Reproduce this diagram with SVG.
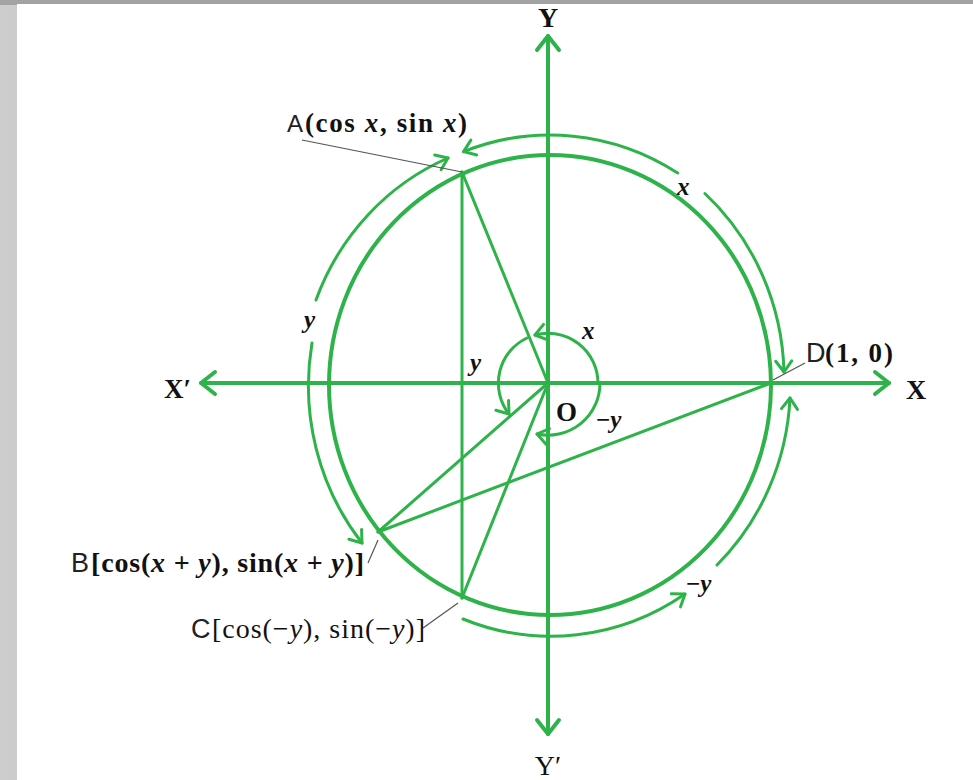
<svg xmlns="http://www.w3.org/2000/svg" width="973" height="780" viewBox="0 0 973 780">
  <defs>
    <linearGradient id="frame" x1="0" y1="0" x2="1" y2="0">
      <stop offset="0" stop-color="#cdcdcd"/>
      <stop offset="1" stop-color="#939393"/>
    </linearGradient>
    <marker id="axArrow" markerUnits="userSpaceOnUse" orient="auto-start-reverse" overflow="visible" markerWidth="30" markerHeight="30" refX="0" refY="0">
      <path d="M-14,-11 L0,0 L-14,11" fill="none" stroke="#2eb34a" stroke-width="4" stroke-linecap="round" stroke-linejoin="round"/>
    </marker>
    <marker id="arcArrow" markerUnits="userSpaceOnUse" orient="auto-start-reverse" overflow="visible" markerWidth="24" markerHeight="24" refX="0" refY="0">
      <path d="M-11,-8 L0,0 L-11,8" fill="none" stroke="#2eb34a" stroke-width="3" stroke-linecap="round" stroke-linejoin="round"/>
    </marker>
  </defs>
  <style>
    .g { fill: none; stroke: #2eb34a; stroke-linecap: round; }
    .axis { stroke-width: 4; }
    .circ { stroke-width: 4; }
    .ln { stroke-width: 3; }
    .arc { stroke-width: 3; }
    .lead { stroke: #555; stroke-width: 1.2; fill: none; }
    .serif { font-family: "Liberation Serif", "Times New Roman", serif; fill: #111; }
    .sans { font-family: "Liberation Sans", Arial, sans-serif; fill: #222; }
    .it { font-style: italic; }
    .b { font-weight: bold; }
  </style>

  <rect x="0" y="0" width="973" height="780" fill="url(#frame)"/>
  <rect x="0" y="0" width="973" height="5" fill="#a3a3a3"/>
  <rect x="17" y="4" width="956" height="776" fill="#ffffff"/>

  <g id="connectors">
    <line id="x-axis" class="g axis" x1="201" y1="383" x2="889" y2="383" marker-start="url(#axArrow)" marker-end="url(#axArrow)"/>
    <line id="y-axis" class="g axis" x1="548" y1="36" x2="548" y2="734" marker-start="url(#axArrow)" marker-end="url(#axArrow)"/>
    <ellipse id="unit-circle" class="g circ" cx="550" cy="385" rx="221" ry="230"/>
    <line class="g ln" x1="548" y1="383" x2="462" y2="172"/>
    <line class="g ln" x1="548" y1="383" x2="378" y2="532"/>
    <line class="g ln" x1="548" y1="383" x2="462" y2="598"/>
    <line class="g ln" x1="378" y1="532" x2="771" y2="383"/>
    <line class="g ln" x1="462" y1="172" x2="462" y2="598"/>
    <path class="g arc" d="M463.6,151.6 A241,250 0 0,1 677.7,173" marker-start="url(#arcArrow)"/>
    <path class="g arc" d="M704.9,193.5 A241,250 0 0,1 784,372" marker-end="url(#arcArrow)"/>
    <path class="g arc" d="M448,158 A241,250 0 0,0 316,300" marker-start="url(#arcArrow)"/>
    <path class="g arc" d="M312,343 A241,250 0 0,0 362,543" marker-end="url(#arcArrow)"/>
    <path class="g arc" d="M463,619 A241,250 0 0,0 685,594" marker-end="url(#arcArrow)"/>
    <path class="g arc" d="M717,565 A241,250 0 0,0 790,398" marker-end="url(#arcArrow)"/>
    <path class="g arc" d="M598,383 A50,50 0 0,0 535,335" marker-end="url(#arcArrow)"/>
    <path class="g arc" d="M527,338 A50,50 0 0,0 509,414" marker-end="url(#arcArrow)"/>
    <path class="g arc" d="M600,383 A52,52 0 0,1 537,434" marker-end="url(#arcArrow)"/>
    <line class="lead" x1="302" y1="140" x2="462" y2="172"/>
    <line class="lead" x1="773" y1="380" x2="805" y2="363"/>
    <line class="lead" x1="368" y1="563" x2="378" y2="540"/>
    <line class="lead" x1="423" y1="628" x2="458" y2="603"/>
  </g>

  <g id="axis-labels">
    <text class="serif b" x="548" y="27" font-size="28" text-anchor="middle">Y</text>
    <text class="serif" x="548" y="775" font-size="28" text-anchor="middle">Y′</text>
    <text class="serif b" x="164" y="398" font-size="27">X′</text>
    <text class="serif b" x="906" y="399" font-size="28">X</text>
  </g>

  <g id="node-A">
    <text class="sans" x="287" y="132" font-size="24">A</text>
    <text class="serif b" x="305" y="132" font-size="27" textLength="162" lengthAdjust="spacing">(cos <tspan class="it">x</tspan>, sin <tspan class="it">x</tspan>)</text>
  </g>
  <g id="node-D">
    <text class="sans" x="806" y="362" font-size="27">D</text>
    <text class="serif b" x="825" y="362" font-size="27" textLength="68" lengthAdjust="spacing">(1, 0)</text>
  </g>
  <g id="node-B">
    <text class="sans" x="71" y="572" font-size="27">B</text>
    <text class="serif b" x="91" y="572" font-size="28" textLength="273" lengthAdjust="spacing">[cos(<tspan class="it">x</tspan> + <tspan class="it">y</tspan>), sin(<tspan class="it">x</tspan> + <tspan class="it">y</tspan>)]</text>
  </g>
  <g id="node-C">
    <text class="sans" x="191" y="638" font-size="27">C</text>
    <text class="serif" x="212" y="638" font-size="28" textLength="213" lengthAdjust="spacing">[cos(−<tspan class="it">y</tspan>), sin(−<tspan class="it">y</tspan>)]</text>
  </g>
  <g id="node-O">
    <text class="serif b" x="556" y="421" font-size="27">O</text>
  </g>

  <g id="angle-labels">
    <text class="serif it b" x="677" y="195" font-size="25">x</text>
    <text class="serif it b" x="304" y="328" font-size="25">y</text>
    <text class="serif it b" x="582" y="339" font-size="25">x</text>
    <text class="serif it b" x="470" y="371" font-size="25">y</text>
    <text class="serif b" x="596" y="428" font-size="25">−<tspan class="it">y</tspan></text>
    <text class="serif b" x="686" y="592" font-size="25">−<tspan class="it">y</tspan></text>
  </g>
</svg>
